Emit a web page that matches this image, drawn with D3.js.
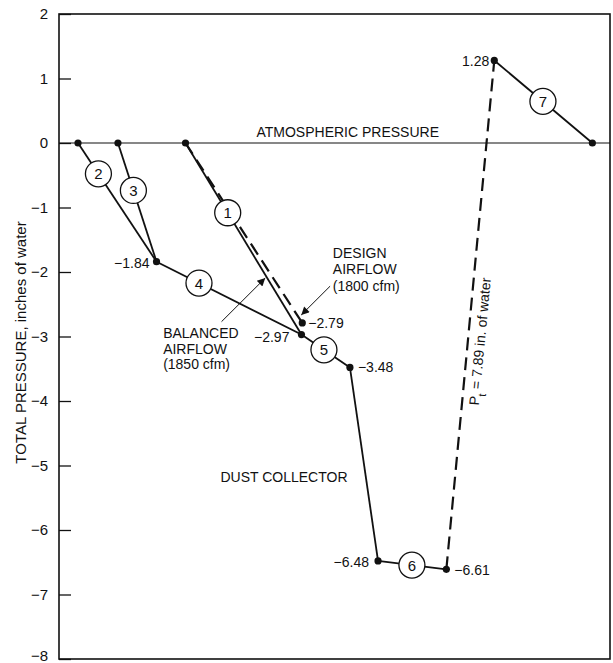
<!DOCTYPE html>
<html><head><meta charset="utf-8">
<script src="https://cdn.jsdelivr.net/npm/d3@7"></script>
<style>
body{margin:0;background:#fff}
svg{display:block}
text{font-family:"Liberation Sans",Arial,Helvetica,sans-serif;fill:#111;font-size:14px}
</style>
</head><body><svg id="c" width="613" height="663"></svg>
<script>
// ---------- data ----------
const yTicks = [2, 1, 0, -1, -2, -3, -4, -5, -6, -7, -8];
const nodeIds    = ["a2", "a3", "a1", "j", "p297", "p279", "p348", "p648", "p661", "p128", "a7"];
const nodeX      = [3.45, 10.7, 22.96, 17.7, 44.0, 44.15, 52.8, 57.9, 70.3, 79.0, 96.8];
const nodeP      = [0, 0, 0, -1.84, -2.97, -2.79, -3.48, -6.48, -6.61, 1.28, 0];
const nodeLabels = ["", "", "", "\u22121.84", "\u22122.97", "\u22122.79", "\u22123.48", "\u22126.48", "\u22126.61", "1.28", ""];

const segFrom   = ["a2", "a3", "a1", "j", "p297", "p348", "p648", "p128", "a1", "p661"];
const segTo     = ["j", "j", "p297", "p297", "p348", "p648", "p661", "a7", "p279", "p128"];
const segDashed = [false, false, false, false, false, false, false, false, true, true];
const segNumber = ["2", "3", "1", "4", "5", "", "6", "7", "", ""];
const segAt     = [0.26, 0.40, 0.364, 0.293, 0.464, 0, 0.496, 0.496, 0, 0];

const annoLines = [["ATMOSPHERIC PRESSURE"], ["DESIGN", "AIRFLOW", "(1800 cfm)"], ["BALANCED", "AIRFLOW", "(1850 cfm)"], ["DUST COLLECTOR"]];
const annoX     = [52.4, 49.7, 18.9, 29.3];
const annoP     = [0.09, -1.78, -3.03, -5.26];
const fanLabel  = ["P", "t", " = 7.89 in. of water"];
const yTitle    = "TOTAL PRESSURE,  inches of water";

// ---------- layout ----------
const svg = d3.select("#c");
const L = 59, R = 610, T = 14, B = 659;
const x = d3.scaleLinear().domain([0, 100]).range([L, R]);
const y = d3.scaleLinear().domain([-8, 2]).range([B, T]);
const nodes = {};
nodeIds.forEach((id, i) => nodes[id] = {x: x(nodeX[i]), y: y(nodeP[i]), label: nodeLabels[i]});

const defs = svg.append("defs");
defs.append("marker").attr("id", "ah").attr("viewBox", "0 0 10 10").attr("refX", 10).attr("refY", 5)
  .attr("markerWidth", 11).attr("markerHeight", 8).attr("markerUnits", "userSpaceOnUse").attr("orient", "auto")
  .append("path").attr("d", "M0,0 L10,5 L0,10 Z").attr("fill", "#111");

// frame
svg.append("rect").attr("x", L).attr("y", T).attr("width", R - L).attr("height", B - T)
  .attr("fill", "none").attr("stroke", "#111").attr("stroke-width", 1.6);

// y axis (inner ticks)
const yAxis = d3.axisRight(y).tickValues(yTicks).tickSize(12).tickFormat("");
const gy = svg.append("g").attr("transform", `translate(${L},0)`).call(yAxis);
gy.select(".domain").remove();
gy.selectAll(".tick line").attr("stroke", "#111").attr("stroke-width", 1.3);
svg.append("g").selectAll("text").data(yTicks).join("text")
  .attr("x", L - 11).attr("y", d => Math.min(y(d) + 5, 661)).attr("text-anchor", "end")
  .style("font-size", "15px")
  .text(d => d < 0 ? "\u2212" + Math.abs(d) : String(d));

// y title
svg.append("text").attr("transform", `translate(26,${(T + B) / 2 + 6}) rotate(-90)`)
  .attr("text-anchor", "middle").style("font-size", "15px").text(yTitle);

// atmospheric line
svg.append("line").attr("x1", L).attr("x2", R).attr("y1", y(0)).attr("y2", y(0))
  .attr("stroke", "#111").attr("stroke-width", 1.2);

// segments
const segs = segFrom.map((f, i) => ({a: nodes[f], b: nodes[segTo[i]], dashed: segDashed[i], num: segNumber[i], t: segAt[i]}));
svg.append("g").selectAll("line").data(segs).join("line")
  .attr("x1", d => d.a.x).attr("y1", d => d.a.y).attr("x2", d => d.b.x).attr("y2", d => d.b.y)
  .attr("stroke", "#111").attr("stroke-width", d => d.dashed ? 2.2 : 1.8)
  .attr("stroke-dasharray", d => d.dashed ? "13,7" : null);

// dots
svg.append("g").selectAll("circle").data(Object.values(nodes)).join("circle")
  .attr("cx", d => d.x).attr("cy", d => d.y).attr("r", 3.6).attr("fill", "#111");

// duct number circles
const nums = segs.filter(d => d.num);
const ng = svg.append("g").selectAll("g").data(nums).join("g")
  .attr("transform", d => `translate(${d.a.x + (d.b.x - d.a.x) * d.t},${d.a.y + (d.b.y - d.a.y) * d.t})`);
ng.append("circle").attr("r", 13).attr("fill", "#fff").attr("stroke", "#111").attr("stroke-width", 1.3);
ng.append("text").attr("text-anchor", "middle").attr("y", 5.5).style("font-size", "15px").text(d => d.num);

// node value labels
const labelOffsets = {
  j: [-7, 6, "end"], p297: [-12, 7, "end"], p279: [6, 5, "start"], p348: [8, 5, "start"],
  p648: [-9, 6, "end"], p661: [8, 6, "start"], p128: [-5, 6, "end"]
};
svg.append("g").selectAll("text").data(nodeIds.filter(id => nodes[id].label)).join("text")
  .attr("x", id => nodes[id].x + labelOffsets[id][0]).attr("y", id => nodes[id].y + labelOffsets[id][1])
  .attr("text-anchor", id => labelOffsets[id][2]).text(id => nodes[id].label);

// annotations
annoLines.forEach((lines, i) => {
  const t = svg.append("text").attr("x", x(annoX[i])).attr("y", y(annoP[i]))
    .attr("text-anchor", i === 0 ? "middle" : "start");
  lines.forEach((s, k) => t.append("tspan").attr("x", x(annoX[i])).attr("dy", k === 0 ? 0 : (i === 1 ? 16.5 : 15.5)).text(s));
});

// arrows (balanced -> line 1, design -> design point)
const p1 = nodes.a1, p297 = nodes.p297, p279 = nodes.p279;
const tipB = {x: p1.x + (p297.x - p1.x) * 0.705 - 2, y: p1.y + (p297.y - p1.y) * 0.705};
svg.append("line").attr("x1", x(29.5)).attr("y1", y(-2.77)).attr("x2", tipB.x).attr("y2", tipB.y)
  .attr("stroke", "#111").attr("stroke-width", 1).attr("marker-end", "url(#ah)");
svg.append("line").attr("x1", x(49.2)).attr("y1", y(-2.22)).attr("x2", p279.x - 1).attr("y2", p279.y - 8)
  .attr("stroke", "#111").attr("stroke-width", 1).attr("marker-end", "url(#ah)");

// fan pressure label along dashed line
const fa = nodes.p661, fb = nodes.p128;
const ang = Math.atan2(fb.y - fa.y, fb.x - fa.x) * 180 / Math.PI;
const ft = 0.45;
const fx = fa.x + (fb.x - fa.x) * ft, fy = fa.y + (fb.y - fa.y) * ft;
const ftxt = svg.append("text").attr("transform", `translate(${fx},${fy}) rotate(${ang}) translate(0,17)`)
  .attr("text-anchor", "middle");
ftxt.append("tspan").text(fanLabel[0]);
ftxt.append("tspan").attr("baseline-shift", "sub").attr("font-size", "11px").text(fanLabel[1]);
ftxt.append("tspan").text(fanLabel[2]);
</script>
</body></html>
